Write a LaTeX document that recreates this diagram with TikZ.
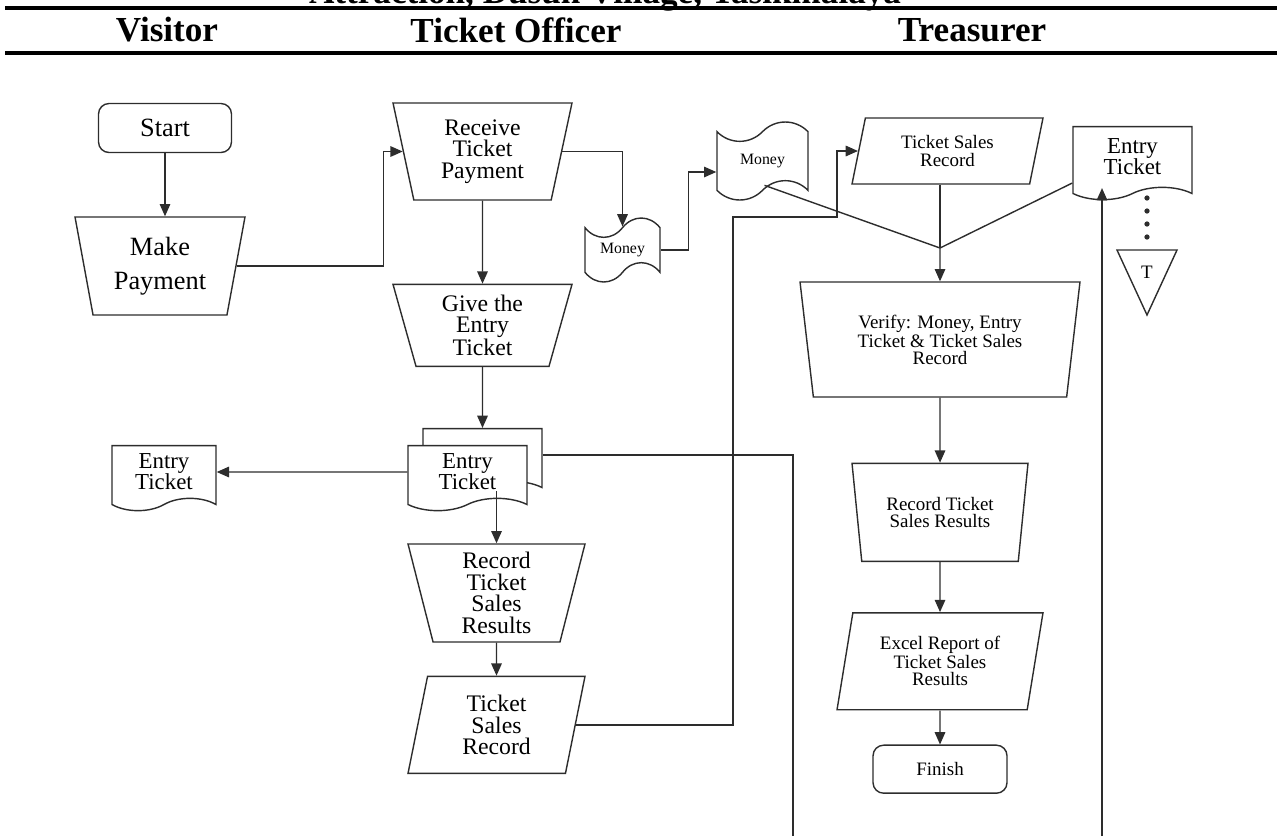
\documentclass[tikz,border=0pt]{standalone}
\usepackage{fontspec}
\setmainfont{Liberation Serif}
\usetikzlibrary{calc,positioning,shapes.geometric,shapes.symbols,arrows.meta}
\definecolor{cLine}{RGB}{45,45,45}
\newcommand\fHead{\bfseries\fontsize{20}{24}\selectfont}
\newcommand\fBig{\fontsize{15}{19}\selectfont}
\newcommand\fMid{\fontsize{13.5}{12.2}\selectfont}
\newcommand\fDoc{\fontsize{13}{12}\selectfont}
\newcommand\fSml{\fontsize{10.8}{9.7}\selectfont}
\newcommand\fTiny{\fontsize{9}{10}\selectfont}

\begin{document}
\begin{tikzpicture}[x=0.02cm,y=-0.02cm,
   box/.style={draw=cLine,line width=0.8pt,fill=white,align=center,inner sep=1pt},
   term/.style={box,rounded corners=6pt},
   man/.style={box,trapezium,shape border rotate=180,trapezium stretches body},
   io/.style={box,trapezium,trapezium stretches body},
   doc/.style={box,tape,tape bend top=none,tape bend height=7pt},
   tap/.style={box,tape,tape bend height=11pt},
   a/.style={-{Triangle[length=7pt,width=6pt]},line width=0.8pt,cLine},
   ln/.style={line width=0.8pt,cLine},
   rule/.style={line width=1.8pt,black}]
  \useasboundingbox (0,0) rectangle (1277,836);
  % header
  \node[font=\fHead,anchor=base] (ttl) at (605,3) {Attraction, Dusun Village, Tasikmalaya};
  \draw[rule] (5,8) -- (1277,8);
  \draw[rule] (5,53) -- (1277,53);
  \node[font=\fHead] (hVis) at (167,30) {Visitor};
  \node[font=\fHead] (hOff) at (516,30) {Ticket Officer};
  \node[font=\fHead] (hTre) at (972,30) {Treasurer};
  % visitor
  \node[term,font=\fBig,minimum width=2.66cm,minimum height=0.98cm] (start) at (165,128) {Start};
  \node[man,font=\fBig,trapezium angle=73.5,minimum width=3.4cm,minimum height=1.96cm] (mpay) at (160,266) {Make\\Payment};
  \node[doc,font=\fDoc,minimum width=2.08cm,minimum height=1.3cm] (etv) at (164,472) {Entry\\Ticket};
  % ticket officer
  \node[man,font=\fMid,trapezium angle=72.8,minimum width=3.58cm,minimum height=1.94cm] (recv) at (482.5,151.5) {Receive\\Ticket\\Payment};
  \node[man,font=\fMid,trapezium angle=70.5,minimum width=3.58cm,minimum height=1.64cm,below=1.66cm of recv] (give) {Give the\\Entry\\Ticket};
  \node[doc,minimum width=2.38cm,minimum height=1.3cm] (etb) at (482.5,455) {};
  \node[doc,font=\fDoc,minimum width=2.38cm,minimum height=1.3cm] (etf) at (467.5,472) {Entry\\Ticket};
  \node[man,font=\fMid,trapezium angle=73.5,minimum width=3.54cm,minimum height=1.96cm] (rec1) at (496.5,593) {Record\\Ticket\\Sales\\Results};
  \node[io,font=\fMid,trapezium left angle=72.8,trapezium right angle=107.2,minimum width=3.54cm,minimum height=1.94cm,below=0.66cm of rec1] (tsr1) {Ticket\\Sales\\Record};
  \node[tap,font=\fTiny,minimum width=1.5cm,minimum height=1.28cm] (mon1) at (622.5,250) {Money};
  % treasurer
  \node[tap,font=\fTiny,minimum width=1.82cm,minimum height=1.56cm] (mon2) at (762.5,161) {Money};
  \node[io,font=\fSml,trapezium left angle=68.5,trapezium right angle=111.5,minimum width=3.82cm,minimum height=1.32cm] (tsr2) at (947.5,151) {Ticket Sales\\Record};
  \node[doc,font=\fDoc,minimum width=2.38cm,minimum height=1.46cm] (ett) at (1132.5,157) {Entry\\Ticket};
  \node[font=\fSml] (tri) at (1147,272) {T};
  \draw[ln] (tri.center) +(-30,-22) -- +(30,-22) -- +(0,43) -- cycle;
  \node[man,font=\fSml,trapezium angle=75.9,minimum width=5.6cm,minimum height=2.3cm] (ver) at (940,339.5) {Verify: Money, Entry\\Ticket \& Ticket Sales\\Record};
  \node[man,font=\fSml,trapezium angle=74,minimum width=3.52cm,minimum height=1.96cm,below=1.3cm of ver] (rec2) {Record Ticket\\Sales Results};
  \node[io,font=\fSml,trapezium left angle=73.4,trapezium right angle=106.6,minimum width=4.12cm,minimum height=1.94cm,below=1cm of rec2] (xls) {Excel Report of\\Ticket Sales\\Results};
  \node[term,font=\fSml,minimum width=2.68cm,minimum height=0.96cm,below=0.68cm of xls] (fin) {Finish};
  % connectors
  \coordinate (jn) at (940,248);
  \coordinate (b1) at (733,217);
  \coordinate (bx) at (837,0);
  \coordinate (c1) at (793,836);
  \coordinate (c2) at (1102,836);
  \draw[a] (start) -- (start |- mpay.north);
  \draw[a] (mpay.east) -- ++(147,0) |- (recv.west);
  \draw[a] (recv) -- (give);
  \draw[a] (give) -- (etb);
  \draw[a] (etf) -- (etv);
  \draw[a] ($(rec1.north |- etf.south)+(0,-8)$) -- (rec1.north);
  \draw[a] (rec1) -- (tsr1);
  \draw[a] (recv.east) -| (mon1.north);
  \draw[a] (mon1.east) -- ++(28,0) |- ($(mon2.west)+(0,11)$);
  \draw[a] (tsr1.east) -| (b1) -| (bx |- tsr2.west) -- (tsr2.west);
  \draw[ln] ($(mon2.south)+(2,-6)$) -- (jn);
  \draw[ln] ($(ett.west)+(0,26)$) -- (jn);
  \draw[ln] (jn |- tsr2.south) -- (jn);
  \draw[a] (jn) -- (ver);
  \draw[a] (ver) -- (rec2);
  \draw[a] (rec2) -- (xls);
  \draw[a] (xls) -- (fin);
  \draw[line width=3pt,cLine,line cap=round,dash pattern=on 0pt off 7.4pt] ($(tri)+(0,-74)$) -- ($(tri)+(0,-34)$);
  \draw[ln] (etb.east) -| (c1);
  \draw[a] (c2) -- (c2 |- ett.south);
\end{tikzpicture}
\end{document}
